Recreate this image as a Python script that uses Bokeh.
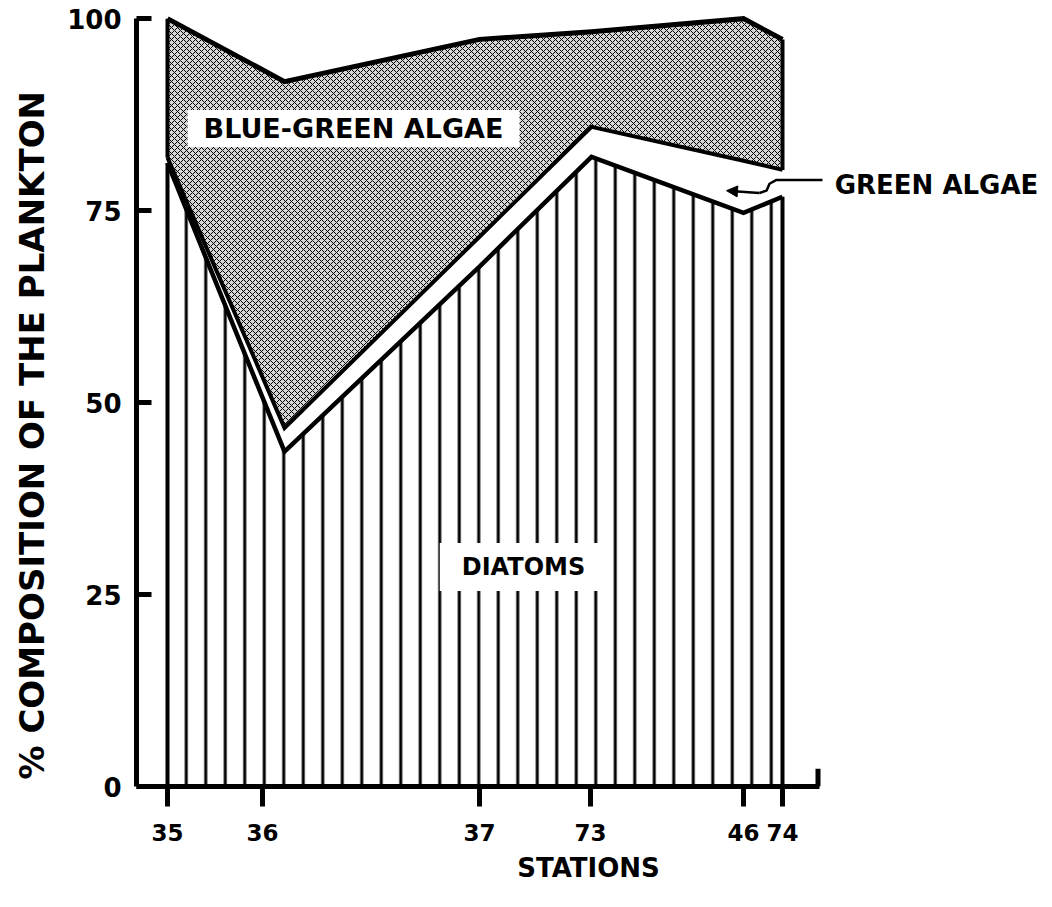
from bokeh.plotting import figure
from bokeh.models import Range1d, FixedTicker, Label, Arrow, NormalHead, Title
from bokeh.embed import file_html
from bokeh.resources import INLINE

# ---- data ----
stations = ["35", "36", "37", "73", "46", "74"]
station_pos = [3.1, 12.6, 34.3, 45.4, 60.7, 64.6]      # position along the river

sample_pos = [3.1, 14.8, 34.3, 45.5, 60.7, 64.6]
diatoms = [81.2, 43.6, 67.7, 82.0, 74.7, 76.8]
green_algae = [0.7, 3.1, 3.9, 3.9, 6.8, 3.5]
blue_green_algae = [18.1, 45.1, 25.7, 12.4, 18.5, 17.0]

y_ticks = [0, 25, 50, 75, 100]

# cumulative tops
green_top = [d + g for d, g in zip(diatoms, green_algae)]
bg_top = [gt + b for gt, b in zip(green_top, blue_green_algae)]

FONT = "DejaVu Sans"
AXIS_END = 68.3

p = figure(width=1040, height=885, output_backend="svg", toolbar_location=None,
           x_range=Range1d(0, 90.4), y_range=Range1d(0, 100.8),
           min_border_left=136, min_border_right=0, min_border_top=12,
           min_border_bottom=99)
p.outline_line_color = None
p.xgrid.visible = False
p.ygrid.visible = False
p.background_fill_color = "white"

# diatoms: vertical-line hatching
p.varea(x=sample_pos, y1=[0] * len(sample_pos), y2=diatoms, fill_color="white",
        hatch_pattern="vertical_line", hatch_color="black", hatch_scale=19.5,
        hatch_weight=3)
# blue-green algae: stipple
p.varea(x=sample_pos, y1=green_top, y2=bg_top, fill_color="#d6d6d6",
        hatch_pattern="diagonal_cross", hatch_color="black", hatch_scale=6,
        hatch_weight=1)

# outlines
p.line(sample_pos, diatoms, line_color="black", line_width=4.5, line_join="miter")
p.line(sample_pos, green_top, line_color="black", line_width=4, line_join="miter")
p.line(sample_pos, bg_top, line_color="black", line_width=5, line_join="miter")
p.segment(x0=[sample_pos[0], sample_pos[-1], sample_pos[0], sample_pos[-1]],
          y0=[0, 0, green_top[0], green_top[-1]],
          x1=[sample_pos[0], sample_pos[-1], sample_pos[0], sample_pos[-1]],
          y1=[diatoms[0], diatoms[-1], bg_top[0], bg_top[-1]],
          line_color="black", line_width=4)

# small upturn at right end of x axis
p.segment(x0=[AXIS_END - 0.15], y0=[0], x1=[AXIS_END - 0.15], y1=[2.3],
          line_color="black", line_width=5)

# axes
xa = p.xaxis[0]
xa.ticker = FixedTicker(ticks=station_pos)
xa.bounds = (0, AXIS_END)
xa.major_label_overrides = {pos: s for pos, s in zip(station_pos, stations)}
xa.axis_label = "STATIONS"
xa.axis_label_text_font = FONT
xa.axis_label_text_font_style = "bold"
xa.axis_label_text_font_size = "26px"
xa.axis_label_standoff = 9
xa.major_label_text_font = FONT
xa.major_label_text_font_style = "bold"
xa.major_label_text_font_size = "23px"
xa.major_label_standoff = 17
xa.major_tick_out = 20
xa.major_tick_in = 0
xa.major_tick_line_width = 5
xa.minor_tick_line_color = None
xa.axis_line_width = 5
xa.major_label_text_color = "black"
xa.axis_label_text_color = "black"

ya = p.yaxis[0]
ya.ticker = FixedTicker(ticks=y_ticks)
ya.bounds = (0, 100)
ya.major_label_text_font = FONT
ya.major_label_text_font_style = "bold"
ya.major_label_text_font_size = "26px"
ya.major_label_standoff = 15
ya.major_tick_in = 15
ya.major_tick_out = 0
ya.major_tick_line_width = 5
ya.minor_tick_line_color = None
ya.axis_line_width = 5
ya.major_label_text_color = "black"

# y-axis title (placed as a left-side title so it can start near the bottom)
p.add_layout(Title(text="% COMPOSITION OF THE PLANKTON", align="left", offset=7,
                   vertical_align="top", standoff=22, text_font=FONT,
                   text_font_style="bold", text_font_size="34px",
                   text_line_height=0.75, text_color="black"), "left")

# labels
p.add_layout(Label(x=21.7, y=85.7, text="BLUE-GREEN ALGAE", text_font=FONT,
                   text_font_style="bold", text_font_size="27px",
                   text_color="black",
                   text_align="center", text_baseline="middle",
                   background_fill_color="white", padding=(16, 3)))
p.add_layout(Label(x=38.7, y=28.6, text="DIATOMS", text_font=FONT,
                   text_font_style="bold", text_font_size="24px",
                   text_color="black",
                   text_align="center", text_baseline="middle",
                   background_fill_color="white", padding=(22, 10)))
p.add_layout(Label(x=80.0, y=78.4, text="GREEN ALGAE", text_font=FONT,
                   text_font_style="bold", text_font_size="26px",
                   text_color="black",
                   text_align="center", text_baseline="middle"))

# leader for green algae
p.line([62.3, 63.0, 63.3, 64.0, 68.6], [77.3, 77.6, 78.5, 79.0, 79.0],
       line_color="black", line_width=2.5)
p.add_layout(Arrow(end=NormalHead(size=11, fill_color="black", line_color="black"),
                   x_start=62.3, y_start=77.3, x_end=59.0, y_end=77.6,
                   line_color="black", line_width=2.5))

open("out.html", "w").write(file_html(p, INLINE))
